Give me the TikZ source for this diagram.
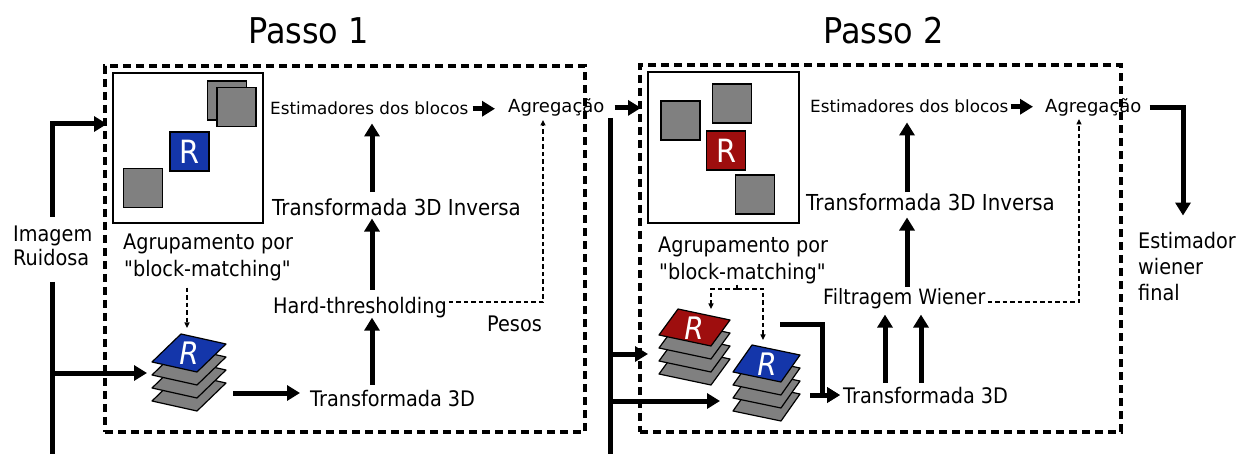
\documentclass[tikz,border=0pt]{standalone}
\usepackage{fontspec}
\setmainfont{DejaVu Sans}[FakeStretch=0.9]
\newfontfamily\widefam{DejaVu Sans}
\usetikzlibrary{arrows.meta,calc}
\definecolor{patchblue}{RGB}{20,54,170}
\definecolor{patchred}{RGB}{158,14,14}
\definecolor{patchgray}{RGB}{128,128,128}
% plain font without the TeX quote mapping, for straight double quotes
\font\plainquotefont="DejaVu Sans:extend=0.9" at 21.4pt
\newcommand{\dq}{{\plainquotefont\char34}}

\begin{document}
\begin{tikzpicture}[x=1pt,y=-1pt,
  txt/.style={anchor=base west, inner sep=0pt, font=\fontsize{21.4}{25}\selectfont},
  smalltxt/.style={txt, font=\widefam\fontsize{16.8}{20}\selectfont},
  midtxt/.style={txt, font=\widefam\fontsize{18}{22}\selectfont},
  bigtxt/.style={txt, font=\fontsize{35.5}{40}\selectfont},
  frame/.style={draw, line width=4.2pt, dash pattern=on 8pt off 5pt, inner sep=0pt},
  imgbox/.style={draw, line width=2pt, fill=white, inner sep=0pt},
  patch/.style={draw, line width=1.5pt, fill=patchgray, inner sep=0pt, minimum size=39pt,
                text=white, font=\fontsize{32}{32}\selectfont},
  sheetline/.style={draw, line width=1.2pt, line join=round},
  sheetR/.style={inner sep=0pt, text=white, font=\fontsize{31}{31}\selectfont\itshape},
  thk/.style={line width=5pt, line join=miter},
  thka/.style={thk, -{Triangle[length=13pt,width=15pt]}},
  dsh/.style={line width=1.2pt, dash pattern=on 4.5pt off 3pt},
  dsha/.style={dsh, -{Triangle[length=5.5pt,width=5pt]}},
  pics/sheet/.style n args={5}{code={
    \filldraw[sheetline, fill=#5] (0,0) -- (#1,#2) -- ({#1+#3},{#2+#4}) -- (#3,#4) -- cycle;}}
]
\useasboundingbox (0,0) rectangle (1237,454);

% ---------- frames ----------
\node[frame, minimum width=480pt, minimum height=366pt] (frame1) at (345,249) {};
\node[frame, minimum width=481pt, minimum height=367pt] (frame2) at (880.5,248.5) {};

% ---------- titles ----------
\node[bigtxt] (p1) at (248,44) {Passo 1};
\node[bigtxt] (p2) at (823,44) {Passo 2};

% ---------- step 1 image with blocks ----------
\node[imgbox, minimum size=150pt] (img1) at (188,148) {};
\node[patch] (s1a) at (143,188) {};
\node[patch] (s1b) at (227,100.5) {};
\node[patch] (s1c) at (236.5,107) {};
\node[patch, fill=patchblue] (r1) at (189.5,151.5) {R};

% ---------- step 2 image with blocks ----------
\node[imgbox, minimum size=151pt] (img2) at (723.5,147.5) {};
\node[patch] (s2a) at (680.5,120.5) {};
\node[patch] (s2b) at (732,103.5) {};
\node[patch, fill=patchred] (r2) at (726,150.5) {R};
\node[patch] (s2c) at (755,194.5) {};

% ---------- stacks of grouped blocks ----------
\foreach \k in {39,26,13} \pic at (152,{362+\k}) {sheet={29}{-28}{45}{10}{patchgray}};
\pic at (152,362) {sheet={29}{-28}{45}{10}{patchblue}};
\node[sheetR] (stk1R) at (189,353) {R};

\foreach \k in {39,26,13} \pic at (659,{335+\k}) {sheet={19}{-26}{52}{11}{patchgray}};
\pic at (659,335) {sheet={19}{-26}{52}{11}{patchred}};
\node[sheetR] (stk2rR) at (694,328) {R};

\foreach \k in {39,26,13} \pic at (733,{372+\k}) {sheet={19}{-27}{48}{10}{patchgray}};
\pic at (733,372) {sheet={19}{-27}{48}{10}{patchblue}};
\node[sheetR] (stk2bR) at (767,364) {R};

% ---------- labels ----------
\node[txt] (noisyA) at (13,242) {Imagem};
\node[txt] (noisyB) at (13,266) {Ruidosa};
\node[txt] (grp1a) at (123,250) {Agrupamento por};
\node[txt] (grp1b) at (124,277) {\dq block-matching\dq};
\node[smalltxt] (est1) at (270,115) {Estimadores dos blocos};
\node[midtxt] (agg1) at (508,113) {Agregação};
\node[txt, font=\fontsize{22}{25}\selectfont] (inv1) at (272,216) {Transformada 3D Inversa};
\node[txt] (hard) at (273,313) {Hard-thresholding};
\node[txt] (pesos) at (487,332) {Pesos};
\node[txt] (t3d1) at (310,406) {Transformada 3D};

\node[txt] (grp2a) at (658,253) {Agrupamento por};
\node[txt] (grp2b) at (659,280) {\dq block-matching\dq};
\node[smalltxt] (est2) at (810,113) {Estimadores dos blocos};
\node[midtxt] (agg2) at (1045,113) {Agregação};
\node[txt, font=\fontsize{22}{25}\selectfont] (inv2) at (806,211) {Transformada 3D Inversa};
\node[txt, font=\fontsize{21.1}{25}\selectfont] (wien) at (823,305) {Filtragem Wiener};
\node[txt] (t3d2) at (843,403) {Transformada 3D};
\node[txt] (fin1) at (1138,249) {Estimador};
\node[txt] (fin2) at (1138,275) {wiener};
\node[txt] (fin3) at (1138,301) {final};

% ---------- connector anchors ----------
\coordinate (bus1top) at (52,217);
\coordinate (bus1low) at (52,282);
\coordinate (bus1end) at (52,454);
\coordinate (row1) at (0,124);
\coordinate (stk1w) at (147,373);
\coordinate (stk1n) at (187,328);
\coordinate (stk1e) at (233,393);
\coordinate (col1) at (372,0);
\coordinate (wt1) at (543,302);
\coordinate (bus2top) at (610,118);
\coordinate (bus2end) at (610,454);
\coordinate (stk2rw) at (648,354);
\coordinate (stk2bw) at (720,401);
\coordinate (brk) at (737,289);
\coordinate (stk2rn) at (711,309);
\coordinate (stk2bn) at (763,340);
\coordinate (stk2re) at (780,325);
\coordinate (jn2) at (822,0);
\coordinate (stk2be) at (810,0);
\coordinate (colw1) at (885,0);
\coordinate (colw2) at (921,0);
\coordinate (col2) at (907,0);
\coordinate (wt2) at (1079,302);
\coordinate (fincol) at (1183,0);

% ---------- step 1 connectors ----------
\draw[thka, shorten >=5pt] (bus1top) |- (img1.west |- row1);
\draw[thk] (bus1low) -- (bus1end);
\draw[thka] (bus1end |- stk1w) -- (stk1w);
\draw[dsha, shorten <=6pt] (grp1b.south -| stk1n) -- (stk1n);
\draw[thka, shorten >=10pt] (stk1e) -- (t3d1.west |- stk1e);
\draw[thka, shorten <=5pt] (t3d1.north -| col1) -- (hard.south -| col1);
\draw[thka, shorten <=7pt, shorten >=2pt] (hard.north -| col1) -- (inv1.south -| col1);
\draw[thka, shorten <=7pt, shorten >=8pt] (inv1.north -| col1) -- (est1.south -| col1);
\draw[thka, shorten <=4pt, shorten >=13pt] (est1.east) -- (agg1.west |- est1.east);
\draw[dsha, shorten <=2pt, shorten >=3pt] (hard.east |- wt1) -| (agg1.south -| wt1);

% ---------- between the steps ----------
\draw[thka, shorten <=10pt, shorten >=6pt] (agg1.east) -- (img2.west |- agg1.east);
\draw[thk] (bus2top) -- (bus2end);
\draw[thka] (bus2end |- stk2rw) -- (stk2rw);
\draw[thka] (bus2end |- stk2bw) -- (stk2bw);

% ---------- step 2 connectors ----------
\draw[dsh] (grp2b.south -| brk) -- (brk);
\draw[dsha] (brk) -| (stk2rn);
\draw[dsha] (brk) -| (stk2bn);
\draw[thka, shorten >=3pt] (stk2re) -| (jn2 |- t3d2.west) -- (t3d2.west);
\draw[thka, shorten >=3pt] (stk2be |- t3d2.west) -- (t3d2.west);
\draw[thka, shorten <=4pt, shorten >=5pt] (t3d2.north -| colw1) -- (wien.south -| colw1);
\draw[thka, shorten <=4pt, shorten >=5pt] (t3d2.north -| colw2) -- (wien.south -| colw2);
\draw[thka, shorten <=2pt, shorten >=6pt] (wien.north -| col2) -- (inv2.south -| col2);
\draw[thka, shorten <=2pt, shorten >=9pt] (inv2.north -| col2) -- (est2.south -| col2);
\draw[thka, shorten <=2pt, shorten >=12pt] (est2.east) -- (agg2.west |- est2.east);
\draw[dsha, shorten <=2pt, shorten >=2pt] (wien.east |- wt2) -| (agg2.south -| wt2);
\draw[thka, shorten <=8pt, shorten >=17pt] (agg2.east) -| (fincol |- fin1.north);
\end{tikzpicture}
\end{document}
